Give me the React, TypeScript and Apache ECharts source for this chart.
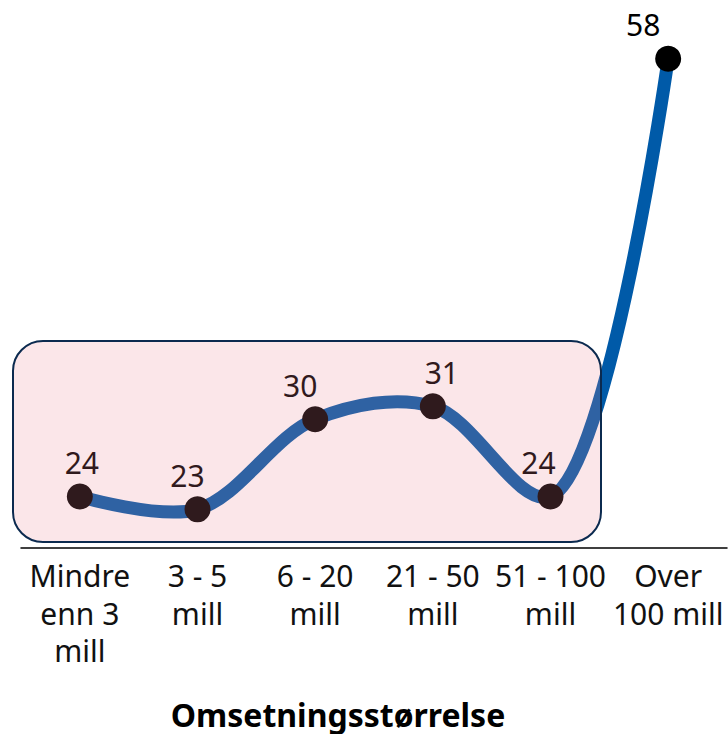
import React, { useEffect, useRef } from "react";
import * as echarts from "echarts";

const categories = [
  "Mindre\nenn 3\nmill",
  "3 - 5\nmill",
  "6 - 20\nmill",
  "21 - 50\nmill",
  "51 - 100\nmill",
  "Over\n100 mill",
];
const values = [24, 23, 30, 31, 24, 58];
const labelDx = [2, -10, -15, 9, -12, -25];
const axisTitle = "Omsetningsstørrelse";

// centripetal Catmull-Rom (alpha 0.5) through pixel points
function catmullRomPath(pts: number[][]): string {
  const n = pts.length;
  const dist = (a: number[], b: number[]) => Math.hypot(b[0] - a[0], b[1] - a[1]);
  let d = `M${pts[0][0]},${pts[0][1]}`;
  for (let i = 0; i < n - 1; i++) {
    const p1 = pts[i];
    const p2 = pts[i + 1];
    let c1 = [p1[0], p1[1]];
    let c2 = [p2[0], p2[1]];
    const l12 = dist(p1, p2);
    const l12a = Math.sqrt(l12);
    if (i > 0) {
      const p0 = pts[i - 1];
      const l01 = dist(p0, p1);
      const l01a = Math.sqrt(l01);
      const a = 2 * l01 + 3 * l01a * l12a + l12;
      const m = 3 * l01a * (l01a + l12a);
      c1 = [0, 1].map((k) => (p1[k] * a - p0[k] * l12 + p2[k] * l01) / m);
    }
    if (i + 2 < n) {
      const p3 = pts[i + 2];
      const l23 = dist(p2, p3);
      const l23a = Math.sqrt(l23);
      const b = 2 * l23 + 3 * l23a * l12a + l12;
      const m = 3 * l23a * (l23a + l12a);
      c2 = [0, 1].map((k) => (p2[k] * b + p1[k] * l23 - p3[k] * l12) / m);
    }
    d += ` C${c1[0]},${c1[1]} ${c2[0]},${c2[1]} ${p2[0]},${p2[1]}`;
  }
  return d;
}

export default function App() {
  const ref = useRef<HTMLDivElement>(null);
  useEffect(() => {
    if (!ref.current) return;
    const chart = echarts.init(ref.current, undefined, { renderer: "svg" });
    chart.setOption({
      animation: false,
      grid: { left: 21, right: 1, top: 33, bottom: 186 },
      xAxis: {
        type: "category",
        data: categories,
        boundaryGap: true,
        axisLine: { show: true, lineStyle: { color: "#000", width: 1.5 } },
        axisTick: { show: false },
        axisLabel: {
          interval: 0,
          color: "#111",
          fontFamily: "Noto Sans",
          fontSize: 30,
          lineHeight: 37.5,
          margin: 9,
          align: "center",
        },
      },
      yAxis: {
        type: "value",
        min: 20,
        max: 60,
        show: false,
        splitLine: { show: false },
      },
      series: [
        {
          type: "custom",
          data: values,
          z: 1,
          silent: true,
          renderItem: (params: any, api: any) => {
            if (params.dataIndex !== 0) return null;
            const pts = values.map((v, i) => api.coord([i, v]));
            return {
              type: "path",
              shape: { pathData: catmullRomPath(pts) },
              style: {
                fill: "none",
                stroke: "#005aa8",
                lineWidth: 13,
                lineCap: "round",
                lineJoin: "round",
              },
            };
          },
        },
        {
          type: "line",
          data: values.map((v, i) => ({
            value: v,
            label: { offset: [labelDx[i], 0] },
          })),
          lineStyle: { width: 0, opacity: 0 },
          itemStyle: { color: "#000" },
          symbol: "circle",
          symbolSize: 26,
          label: {
            show: true,
            position: "top",
            distance: 6,
            color: "#000",
            fontFamily: "Noto Sans",
            fontSize: 30,
          },
          z: 3,
        },
      ],
      graphic: [
        {
          type: "rect",
          z: 100,
          shape: { x: 13, y: 341, width: 588, height: 201, r: 30 },
          style: {
            fill: "rgba(235,132,147,0.2)",
            stroke: "#0b2a4f",
            lineWidth: 2,
          },
        },
        {
          type: "text",
          z: 100,
          x: 338,
          y: 714,
          style: {
            text: axisTitle,
            fill: "#000",
            font: "bold 32px 'Noto Sans'",
            align: "center",
            verticalAlign: "middle",
          },
        },
      ],
    });
    return () => chart.dispose();
  }, []);
  return (
    <div
      ref={ref}
      style={{ position: "absolute", left: 0, top: 0, width: 728, height: 734 }}
    />
  );
}
